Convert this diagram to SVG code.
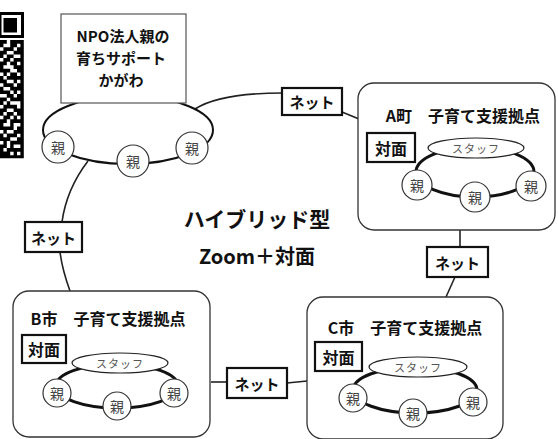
<svg xmlns="http://www.w3.org/2000/svg" width="558" height="439" viewBox="0 0 558 439">
<style>
text{font-family:"Noto Sans CJK JP","Noto Sans",sans-serif;text-anchor:middle;dominant-baseline:central;fill:#111}
.b{font-weight:bold}
.tag{fill:#fff;stroke:#111;stroke-width:2.2}
.site{fill:#fff;stroke:#333;stroke-width:1.3}
.ring{fill:none;stroke:#111;stroke-width:3}
.staff{fill:#fff;stroke:#222;stroke-width:1.2}
.oya{fill:#fff;stroke:#333;stroke-width:1.2}
.oyat{font-size:14px;fill:#444}
.stt{font-size:11px;fill:#555;letter-spacing:1px}
.con{fill:none;stroke:#222;stroke-width:1.6}
</style>
<rect width="558" height="439" fill="#fff"/>
<g id="qr">
<rect x="0" y="12" width="24" height="26" fill="#000"/>
<rect x="1.5" y="15" width="19.5" height="20" fill="#fff"/>
<rect x="3.5" y="18" width="13.5" height="14.5" fill="#000"/>
<path fill="#000" d="M0 40h6.8v3.7h-6.8zM10.2 40h13.6v3.7h-13.6zM0 43.6h3.4v3.7h-3.4zM10.2 43.6h6.8v3.7h-6.8zM20.4 43.6h3.4v3.7h-3.4zM3.4 47.2h10.2v3.7h-10.2zM17 47.2h6.8v3.7h-6.8zM0 50.8h6.8v3.7h-6.8zM13.6 50.8h10.2v3.7h-10.2zM0 54.4h3.4v3.7h-3.4zM6.8 54.4h6.8v3.7h-6.8zM20.4 54.4h3.4v3.7h-3.4zM3.4 58h6.8v3.7h-6.8zM13.6 58h10.2v3.7h-10.2zM0 61.6h6.8v3.7h-6.8zM10.2 61.6h6.8v3.7h-6.8zM20.4 61.6h3.4v3.7h-3.4zM0 65.2h3.4v3.7h-3.4zM13.6 65.2h10.2v3.7h-10.2zM0 68.8h10.2v3.7h-10.2zM17 68.8h6.8v3.7h-6.8zM3.4 72.4h3.4v3.7h-3.4zM10.2 72.4h6.8v3.7h-6.8zM20.4 72.4h3.4v3.7h-3.4zM0 76h3.4v3.7h-3.4zM6.8 76h17v3.7h-17zM0 79.6h6.8v3.7h-6.8zM13.6 79.6h3.4v3.7h-3.4zM20.4 79.6h3.4v3.7h-3.4zM3.4 83.2h10.2v3.7h-10.2zM17 83.2h6.8v3.7h-6.8zM0 86.8h3.4v3.7h-3.4zM10.2 86.8h13.6v3.7h-13.6zM0 90.4h10.2v3.7h-10.2zM13.6 90.4h3.4v3.7h-3.4zM20.4 90.4h3.4v3.7h-3.4zM6.8 94h6.8v3.7h-6.8zM17 94h6.8v3.7h-6.8zM0 97.6h6.8v3.7h-6.8zM10.2 97.6h13.6v3.7h-13.6zM0 101.2h3.4v3.7h-3.4zM6.8 101.2h3.4v3.7h-3.4zM20.4 101.2h3.4v3.7h-3.4zM3.4 104.8h13.6v3.7h-13.6zM20.4 104.8h3.4v3.7h-3.4zM0 108.4h6.8v3.7h-6.8zM13.6 108.4h10.2v3.7h-10.2zM0 112h3.4v3.7h-3.4zM6.8 112h6.8v3.7h-6.8zM17 112h6.8v3.7h-6.8zM3.4 115.6h6.8v3.7h-6.8zM13.6 115.6h3.4v3.7h-3.4zM20.4 115.6h3.4v3.7h-3.4zM0 119.2h6.8v3.7h-6.8zM10.2 119.2h13.6v3.7h-13.6zM0 122.8h3.4v3.7h-3.4zM10.2 122.8h3.4v3.7h-3.4zM20.4 122.8h3.4v3.7h-3.4zM0 126.4h13.6v3.7h-13.6zM17 126.4h6.8v3.7h-6.8zM3.4 130h3.4v3.7h-3.4zM13.6 130h10.2v3.7h-10.2zM0 133.6h3.4v3.7h-3.4zM6.8 133.6h10.2v3.7h-10.2zM20.4 133.6h3.4v3.7h-3.4zM0 137.2h10.2v3.7h-10.2zM17 137.2h6.8v3.7h-6.8zM3.4 140.8h3.4v3.7h-3.4zM10.2 140.8h13.6v3.7h-13.6zM0 144.4h6.8v3.7h-6.8zM10.2 144.4h3.4v3.7h-3.4zM20.4 144.4h3.4v3.7h-3.4zM0 148h3.4v3.7h-3.4zM6.8 148h17v3.7h-17zM0 151.6h10.2v3.7h-10.2zM13.6 151.6h3.4v3.7h-3.4zM20.4 151.6h3.4v3.7h-3.4zM0 155.2h23.8v3h-23.8z"/>
</g>
<g id="connectors">
<path class="con" d="M195 109C215 96 250 93 283 93"/>
<path class="con" d="M342 112L359 119"/>
<path class="con" d="M460 230V247"/>
<path class="con" d="M455 277L446 297"/>
<path class="con" d="M287 383L307 381"/>
<path class="con" d="M211 382H227"/>
<path class="con" d="M88 161C75 178 65 200 62 222"/>
<path class="con" d="M60 252C62 268 66 280 70 291"/>
</g>
<g id="npo">
<ellipse cx="128" cy="130" rx="85" ry="34" fill="#fff" stroke="#111" stroke-width="2"/>
<rect x="61" y="14" width="125" height="89" fill="#fff" stroke="#555" stroke-width="1.2"/>
<text x="123" y="35" font-size="15" class="b">NPO法人親の</text>
<text x="121" y="57" font-size="15" class="b">育ちサポート</text>
<text x="121" y="79" font-size="15" class="b">かがわ</text>
<circle class="oya" cx="58" cy="147" r="16"/><text class="oyat" x="58" y="147">親</text>
<circle class="oya" cx="133" cy="161" r="16"/><text class="oyat" x="133" y="161">親</text>
<circle class="oya" cx="192" cy="148" r="16"/><text class="oyat" x="192" y="148">親</text>
</g>
<g id="net1"><rect class="tag" x="282" y="88" width="60" height="27"/><text class="b" x="312" y="101.5" font-size="15">ネット</text></g>
<g id="net2"><rect class="tag" x="25" y="222" width="57" height="30"/><text class="b" x="53.5" y="237" font-size="15">ネット</text></g>
<g id="net3"><rect class="tag" x="427" y="247" width="61" height="30"/><text class="b" x="457.5" y="262" font-size="15">ネット</text></g>
<g id="net4"><rect class="tag" x="227" y="368" width="60" height="30"/><text class="b" x="257" y="383" font-size="15">ネット</text></g>
<g id="center">
<text class="b" x="257" y="218" font-size="21">ハイブリッド型</text>
<text class="b" x="257" y="255" font-size="20">Zoom＋対面</text>
</g>
<g id="siteA">
<rect class="site" x="358" y="83" width="197" height="147" rx="16"/>
<text class="b" x="463" y="115" font-size="16">A町　子育て支援拠点</text>
<rect class="tag" x="367" y="133" width="48" height="29"/><text class="b" x="391" y="147.5" font-size="16">対面</text>
<ellipse class="ring" cx="475" cy="172" rx="59" ry="25"/>
<ellipse class="staff" cx="476" cy="148" rx="48" ry="10"/><text class="stt" x="476" y="148">スタッフ</text>
<circle class="oya" cx="417" cy="185" r="15"/><text class="oyat" x="417" y="185">親</text>
<circle class="oya" cx="475" cy="197" r="15"/><text class="oyat" x="475" y="197">親</text>
<circle class="oya" cx="531" cy="186" r="15"/><text class="oyat" x="531" y="186">親</text>
</g>
<g id="siteB">
<rect class="site" x="13" y="291" width="197" height="146" rx="16"/>
<text class="b" x="108" y="318" font-size="16">B市　子育て支援拠点</text>
<rect class="tag" x="22" y="335" width="44" height="28"/><text class="b" x="44" y="349" font-size="16">対面</text>
<ellipse class="ring" cx="117" cy="386" rx="61" ry="22"/>
<ellipse class="staff" cx="120" cy="363" rx="48" ry="10"/><text class="stt" x="120" y="363">スタッフ</text>
<circle class="oya" cx="57" cy="393" r="14"/><text class="oyat" x="57" y="393">親</text>
<circle class="oya" cx="117" cy="406" r="14"/><text class="oyat" x="117" y="406">親</text>
<circle class="oya" cx="174" cy="393" r="14"/><text class="oyat" x="174" y="393">親</text>
</g>
<g id="siteC">
<rect class="site" x="307" y="297" width="196" height="142" rx="16"/>
<text class="b" x="405" y="327" font-size="16">C市　子育て支援拠点</text>
<rect class="tag" x="315" y="342" width="47" height="29"/><text class="b" x="338.5" y="356.5" font-size="16">対面</text>
<ellipse class="ring" cx="415" cy="390" rx="62" ry="23"/>
<ellipse class="staff" cx="418" cy="367" rx="49" ry="10"/><text class="stt" x="418" y="367">スタッフ</text>
<circle class="oya" cx="353" cy="398" r="14"/><text class="oyat" x="353" y="398">親</text>
<circle class="oya" cx="413" cy="413" r="14"/><text class="oyat" x="413" y="413">親</text>
<circle class="oya" cx="473" cy="402" r="14"/><text class="oyat" x="473" y="402">親</text>
</g>
</svg>
